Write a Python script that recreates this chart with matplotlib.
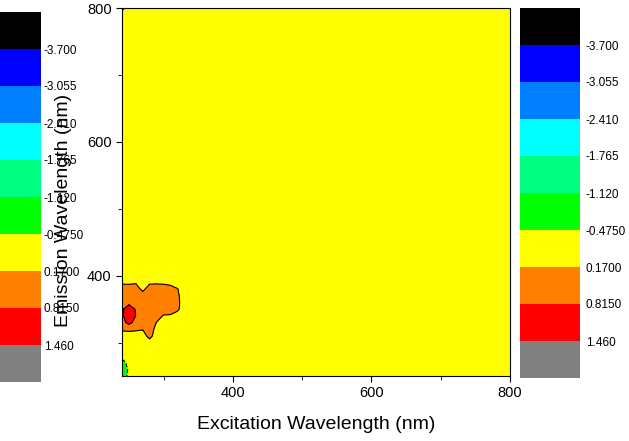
import numpy as np
import matplotlib
matplotlib.use("Agg")
from matplotlib import pyplot as plt
from matplotlib.colors import ListedColormap, BoundaryNorm
import matplotlib.cm as cm

plt.rcParams["font.family"] = ["Liberation Sans", "DejaVu Sans"]

# grid (nm)
excitation = [240, 250, 260, 270, 280, 290, 300, 310, 320, 330, 340, 800]
emission = [250, 260, 270, 280, 290, 300, 310, 320, 330, 340,
            350, 360, 370, 380, 390, 400, 790, 800]

# estimated intensity per (emission row, excitation column)
intensity = [
    [-0.9, -0.3, -0.2, -0.2, -0.2, -0.2, -0.2, -0.2, -0.2, -0.2, -0.2, -0.2],
    [-1.0, -0.35, -0.2, -0.2, -0.2, -0.2, -0.2, -0.2, -0.2, -0.2, -0.2, -0.2],
    [-0.8, -0.2, -0.2, -0.2, -0.2, -0.2, -0.2, -0.2, -0.2, -0.2, -0.2, -0.2],
    [-0.2, -0.2, -0.2, -0.2, -0.2, -0.2, -0.2, -0.2, -0.2, -0.2, -0.2, -0.2],
    [-0.2, -0.2, -0.2, -0.2, -0.2, -0.2, -0.2, -0.2, -0.2, -0.2, -0.2, -0.2],
    [-0.2, -0.2, -0.2, -0.2, -0.1, -0.2, -0.2, -0.2, -0.2, -0.2, -0.2, -0.2],
    [-0.2, -0.2, -0.2, -0.1, 0.4, -0.2, -0.2, -0.2, -0.2, -0.2, -0.2, -0.2],
    [0.3, 0.35, 0.3, 0.2, 0.5, -0.05, -0.2, -0.2, -0.2, -0.2, -0.2, -0.2],
    [0.6, 1.0, 0.6, 0.5, 0.5, 0.15, -0.2, -0.2, -0.2, -0.2, -0.2, -0.2],
    [0.7, 1.25, 0.8, 0.5, 0.5, 0.45, 0.12, 0.1, -0.1, -0.2, -0.2, -0.2],
    [0.7, 1.2, 0.75, 0.5, 0.55, 0.6, 0.55, 0.5, 0.3, -0.2, -0.2, -0.2],
    [0.6, 0.6, 0.5, 0.5, 0.6, 0.65, 0.6, 0.55, 0.35, -0.2, -0.2, -0.2],
    [0.5, 0.5, 0.5, 0.45, 0.6, 0.6, 0.6, 0.55, 0.3, -0.2, -0.2, -0.2],
    [0.5, 0.5, 0.45, 0.0, 0.5, 0.55, 0.55, 0.5, 0.2, -0.2, -0.2, -0.2],
    [0.05, 0.03, 0.1, -0.2, 0.05, 0.05, 0.02, -0.1, -0.2, -0.2, -0.2, -0.2],
    [-0.2, -0.2, -0.2, -0.2, -0.2, -0.2, -0.2, -0.2, -0.2, -0.2, -0.2, -0.2],
    [-0.2, -0.2, -0.2, -0.2, -0.2, -0.2, -0.2, -0.2, -0.2, -0.2, -0.2, -0.2],
    [0.4, -0.2, -0.2, -0.2, -0.2, -0.2, -0.2, -0.2, -0.2, -0.2, -0.2, -0.2],
]

levels = [-4.345, -3.700, -3.055, -2.410, -1.765, -1.120, -0.4750,
          0.1700, 0.8150, 1.460, 2.105]
level_labels = ["-3.700", "-3.055", "-2.410", "-1.765", "-1.120",
                "-0.4750", "0.1700", "0.8150", "1.460"]
level_colors = ["#000000", "#0000ff", "#0080ff", "#00ffff", "#00ff80",
                "#00ff00", "#ffff00", "#ff8000", "#ff0000", "#808080"]

W, H = 629, 441
fig = plt.figure(figsize=(W / 100, H / 100), dpi=100)

cmap = ListedColormap(level_colors)
norm = BoundaryNorm(levels, cmap.N)

ax = fig.add_axes([122 / W, 1 - 376 / H, 388 / W, 368 / H])
X, Y = np.meshgrid(excitation, emission)
Z = np.array(intensity)
ax.contourf(X, Y, Z, levels=levels, cmap=cmap, norm=norm)
ax.contour(X, Y, Z, levels=levels, colors="k", linewidths=0.8)

ax.set_xlim(240, 800)
ax.set_ylim(250, 800)
ax.set_xticks([400, 600, 800])
ax.set_xticks([300, 500, 700], minor=True)
ax.set_yticks([400, 600, 800])
ax.set_yticks([300, 500, 700], minor=True)
ax.tick_params(which="both", direction="out", labelsize=10.5, top=False, right=False)
ax.tick_params(which="major", length=4)
ax.tick_params(which="minor", length=3)
ax.set_xlabel("Excitation Wavelength (nm)", fontsize=14)
ax.set_ylabel("Emission Wavelength (nm)", fontsize=14)
ax.xaxis.set_label_coords(0.5, -0.11)
ax.yaxis.set_label_coords(-0.129, 0.45)


def add_bar(rect, pad):
    cax = fig.add_axes(rect)
    sm = cm.ScalarMappable(norm=norm, cmap=cmap)
    cb = fig.colorbar(sm, cax=cax, ticks=levels[1:-1], spacing="uniform")
    cb.ax.invert_yaxis()
    cb.ax.minorticks_off()
    cb.ax.set_yticks(levels[1:-1])
    cb.ax.set_yticklabels(level_labels)
    cb.ax.tick_params(length=0, labelsize=8.5, pad=pad)
    cb.outline.set_visible(False)


add_bar([520 / W, 1 - 378 / H, 60 / W, 370 / H], 4)
add_bar([-19 / W, 1 - 382 / H, 60 / W, 370 / H], 2)

fig.savefig("out.png", dpi=100)
